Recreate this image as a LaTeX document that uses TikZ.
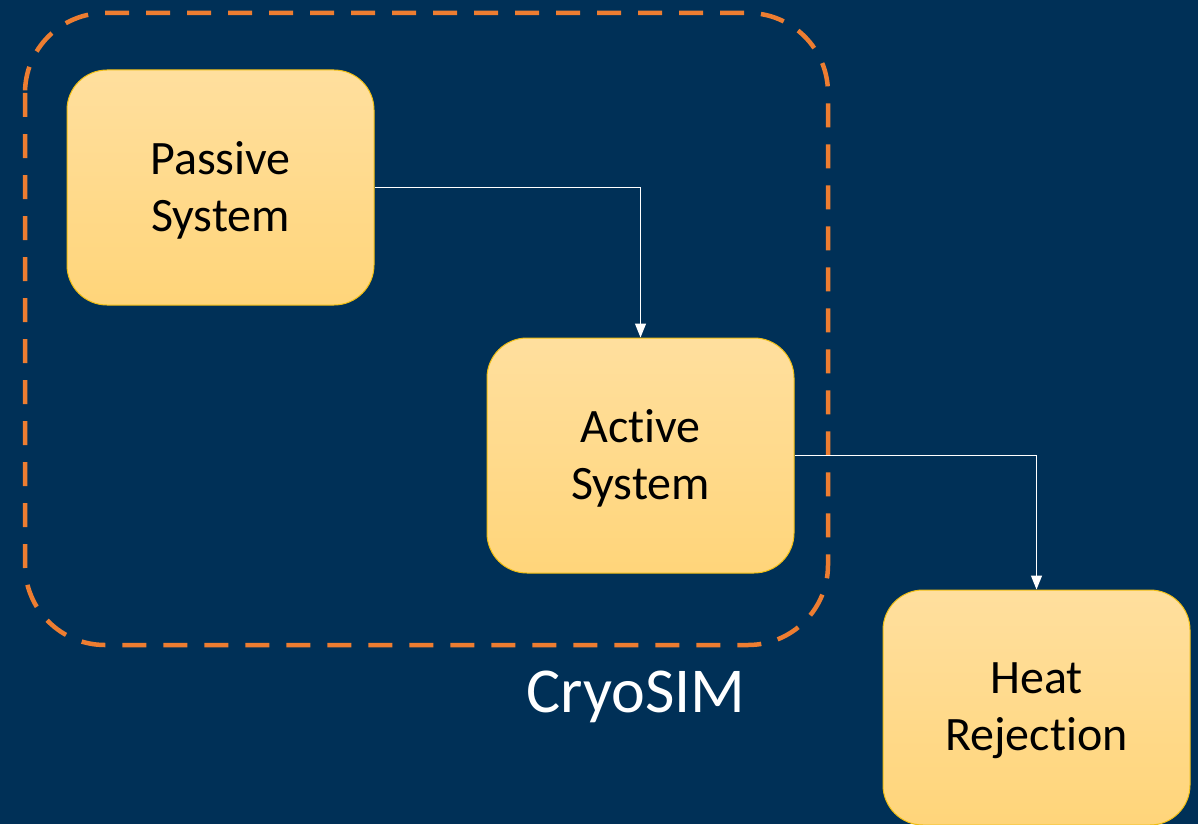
\documentclass[tikz,border=0pt]{standalone}
\usepackage{fontspec}
\setmainfont{Carlito}[Ligatures=NoCommon]
\usetikzlibrary{arrows.meta}
\definecolor{navy}{RGB}{0,48,87}
\definecolor{boxtop}{RGB}{255,223,158}
\definecolor{boxbot}{RGB}{255,213,122}
\definecolor{boxline}{RGB}{240,190,20}
\definecolor{dashorange}{RGB}{237,125,49}
\tikzset{
  sysbox/.style={rectangle, rounded corners=40pt, minimum width=307pt, minimum height=235pt,
    top color=boxtop, bottom color=boxbot, draw=boxline, line width=1pt,
    align=center, font=\fontsize{48}{57}\selectfont, text=black, inner sep=0pt},
  flow/.style={draw=white, line width=1.2pt, -{Triangle[width=11pt,length=14pt]}},
}
\begin{document}
\begin{tikzpicture}[x=1pt,y=-1pt]
  \fill[navy] (0,0) rectangle (1198,824);
  \useasboundingbox (0,0) rectangle (1198,824);
  % CryoSIM boundary
  \draw[dashorange, line width=4.5pt, dash pattern=on 24pt off 17pt, rounded corners=80pt]
    (25,13) rectangle (828,645);
  \node[text=white, font=\fontsize{64}{70}\selectfont] (cryo) at (636,697) {CryoSIM};
  % subsystems
  \node[sysbox] (passive) at (220.5,187.5) {};
  \node[sysbox] (active) at (640.5,455.5) {};
  \node[sysbox] (heat) at (1036.5,707.5) {};
  \node[align=center, font=\fontsize{48}{57}\selectfont] (passivelbl) at ([yshift=-3pt]passive.center) {Passive\\System};
  \node[align=center, font=\fontsize{48}{57}\selectfont] (activelbl) at ([yshift=-3pt]active.center) {Active\\System};
  \node[align=center, font=\fontsize{48}{57}\selectfont] (heatlbl) at ([yshift=-3pt]heat.center) {Heat\\Rejection};
  % heat flow
  \draw[flow] (passive.east) -| (active.north);
  \draw[flow] (active.east) -| (heat.north);
\end{tikzpicture}
\end{document}
